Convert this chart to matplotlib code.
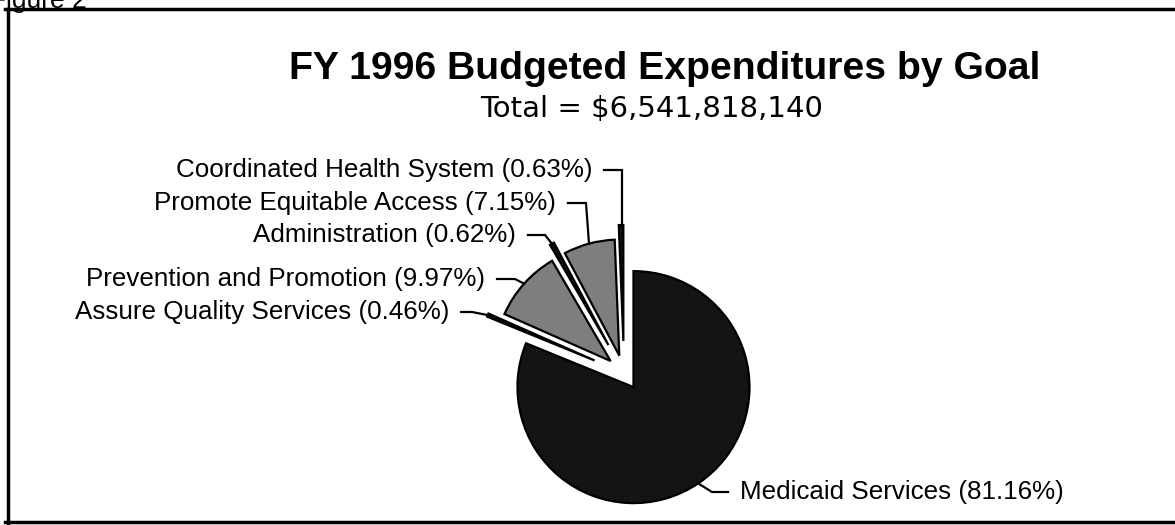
import numpy as np
import matplotlib.pyplot as plt

# FY 1996 budget shares by goal (percent of total)
goals = ['Coordinated Health System', 'Promote Equitable Access', 'Administration',
         'Prevention and Promotion', 'Assure Quality Services', 'Medicaid Services']
shares = [0.63, 7.15, 0.62, 9.97, 0.46, 81.16]
total_txt = 'Total = $6,541,818,140'
title_txt = 'FY 1996 Budgeted Expenditures by Goal'

W, H = 1175, 525
fig = plt.figure(figsize=(W / 100, H / 100), dpi=100)
ax = fig.add_axes([0, 0, 1, 1])

colors = ['#111111', '#7e7e7e', '#111111', '#7e7e7e', '#111111', '#141414']
explode = [32, 18, 32, 18, 32, 17]

# y axis is flipped (pixel style), so clockwise here reads counterclockwise on screen
wedges, _ = ax.pie(shares, center=(624, 373), radius=116, startangle=-90,
                   counterclock=False, explode=explode, colors=colors,
                   wedgeprops=dict(edgecolor='black', linewidth=1.6))
ax.set_xlim(0, W)
ax.set_ylim(H, 0)
ax.axis('off')

# label layout: text anchor x, y, elbow x, alignment
lab_x = [592, 556, 516, 485, 449, 740]
lab_y = [170, 203, 235, 279, 312, 492]
elbow_x = [622, 586, 545, 515, 472, 712]
ha = ['right', 'right', 'right', 'right', 'right', 'left']

for i, w in enumerate(wedges):
    tm = np.deg2rad((w.theta1 + w.theta2) / 2)
    cx, cy = w.center
    px = cx + w.r * np.cos(tm)
    py = cy + w.r * np.sin(tm)
    gap = 12 if ha[i] == 'right' else -12
    xs = [lab_x[i] + gap, elbow_x[i], px]
    ys = [lab_y[i], lab_y[i], py]
    if i == 0:
        xs = [lab_x[i] + gap, elbow_x[i], elbow_x[i]]
    ax.plot(xs, ys, color='black', lw=1.6, solid_joinstyle='miter')
    ax.text(lab_x[i], lab_y[i], f'{goals[i]} ({shares[i]:.2f}%)', ha=ha[i], va='center',
            fontsize=18.7, family='Liberation Sans')

ax.text(665, 69, title_txt, ha='center', va='center', fontsize=28.2, fontweight='bold',
        family='Liberation Sans')
ax.text(652, 109, total_txt, ha='center', va='center', fontsize=21, family='DejaVu Sans')
ax.text(-10, 1, 'Figure 2', ha='left', va='center', fontsize=19, family='Liberation Sans')

# scanned frame, right side runs off the page
ax.plot([5, W], [9, 9], color='black', lw=2.5)
ax.plot([8, 8], [9, 523], color='black', lw=2.5)
ax.plot([5, W], [522, 522], color='black', lw=2.5)

fig.savefig('out.png', dpi=100)
